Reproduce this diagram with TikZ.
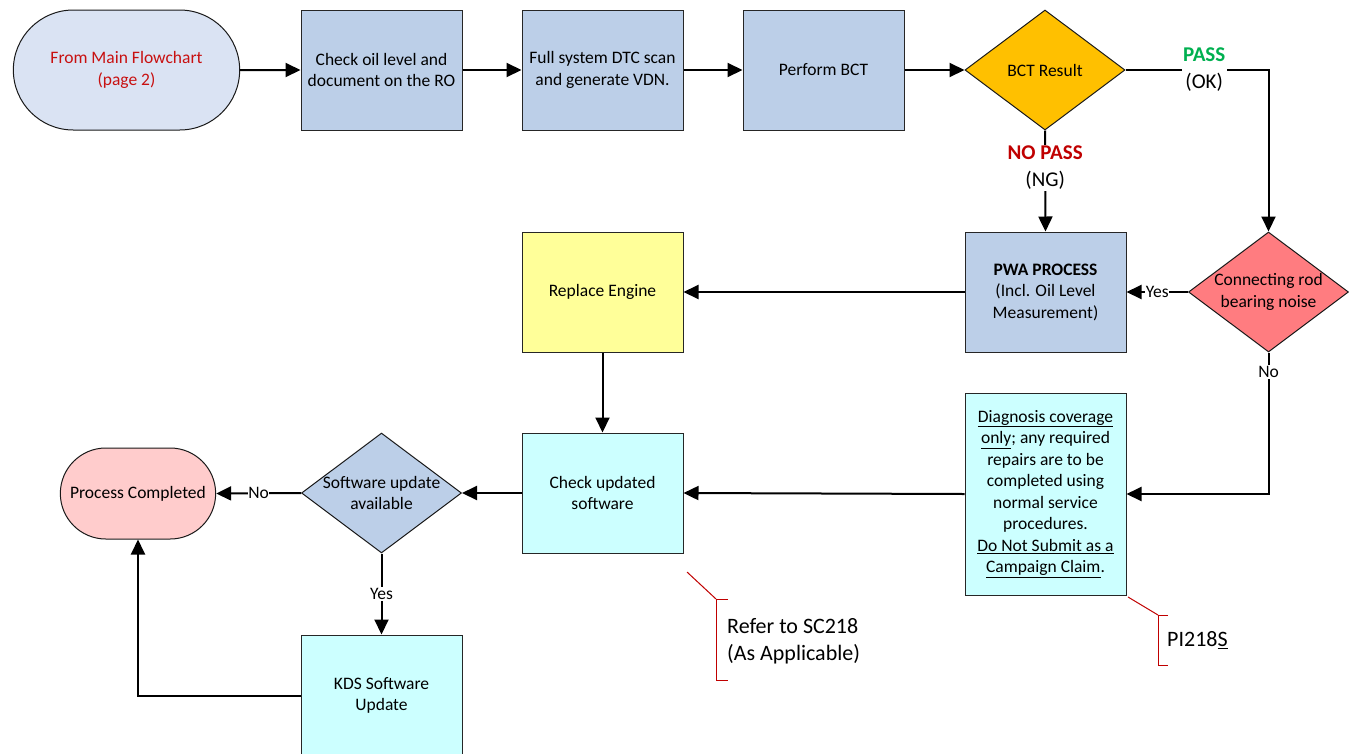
\documentclass[tikz,border=0pt]{standalone}
\usepackage{fontspec}
\setmainfont{Carlito}
\usetikzlibrary{arrows.meta,shapes.geometric,shapes.misc}
\definecolor{boxblue}{RGB}{188,207,232}
\definecolor{startblue}{RGB}{218,227,243}
\definecolor{yel}{RGB}{255,255,153}
\definecolor{cyanbox}{RGB}{204,255,255}
\definecolor{orangedia}{RGB}{255,192,0}
\definecolor{reddia}{RGB}{255,124,128}
\definecolor{pinkend}{RGB}{255,204,204}
\definecolor{passgreen}{RGB}{0,176,80}
\definecolor{darkred}{RGB}{192,0,0}
\definecolor{txtred}{RGB}{200,16,16}
\newcommand{\nf}{\fontsize{17.5}{21.5}\selectfont}
\begin{document}
\begin{tikzpicture}[x=1pt,y=-1pt,
  stepbox/.style={draw=black!85, line width=1pt, minimum width=161pt, minimum height=120pt, inner sep=2pt, align=center, font=\nf},
  decision/.style={diamond, draw=black!90, line width=1pt, minimum width=160pt, minimum height=120pt, inner sep=-14pt, aspect=1.333, align=center, font=\nf},
  terminal/.style={rounded rectangle, draw=black!90, line width=1pt, align=center, font=\nf},
  conn/.style={line width=2pt, -{Triangle[length=15pt,width=14pt]}},
  lab/.style={fill=white, inner sep=1.5pt, align=center, font=\nf},
  biglab/.style={fill=white, inner sep=1.5pt, align=center, font=\fontsize{21}{27}\selectfont},
  callout/.style={draw=darkred, line width=1pt},
  note/.style={align=left, font=\fontsize{22}{27}\selectfont, anchor=west, inner sep=0pt}
]
\useasboundingbox (0,0) rectangle (1349,753);

% top row
\node[terminal, fill=startblue, minimum width=233pt, minimum height=120pt, text=txtred] (start) at (126.5,70) {From Main Flowchart\\(page 2)};
\node[stepbox, fill=boxblue] (oil) at (381.5,70) {Check oil level and\\document on the RO};
\node[stepbox, fill=boxblue] (dtc) at (602.5,70) {Full system DTC scan\\and generate VDN.};
\node[stepbox, fill=boxblue] (bctp) at (823.5,70) {Perform BCT};
\node[decision, fill=orangedia] (bct) at (1045,70) {BCT Result};

% middle row
\node[decision, fill=reddia] (cr) at (1268.5,292) {Connecting rod\\bearing noise};
\node[stepbox, fill=boxblue] (pwa) at (1045.5,292) {\textbf{PWA PROCESS}\\(Incl. Oil Level\\Measurement)};
\node[stepbox, fill=yel] (rep) at (602.5,292) {Replace Engine};

% lower row
\node[stepbox, fill=cyanbox, minimum height=202pt] (diag) at (1045.5,494) {\underline{Diagnosis coverage}\\\underline{only}; any required\\repairs are to be\\completed using\\normal service\\procedures.\\\underline{Do Not Submit as a}\\\underline{Campaign Claim}.};
\node[stepbox, fill=cyanbox] (chk) at (602.5,493) {Check updated\\software};
\node[decision, fill=boxblue] (sw) at (381.5,493) {Software update\\available};
\node[terminal, fill=pinkend, minimum width=162pt, minimum height=91pt] (pc) at (138,493.5) {Process Completed};
\node[stepbox, fill=cyanbox, minimum height=121pt] (kds) at (381.5,695.5) {KDS Software\\Update};

% connectors
\draw[conn] (start) -- (oil);
\draw[conn] (oil) -- (dtc);
\draw[conn] (dtc) -- (bctp);
\draw[conn] (bctp) -- (bct);
\draw[conn] (bct.east) -- node[biglab, pos=0.55]{\textcolor{passgreen}{\textbf{PASS}}\\(OK)} (bct.east -| cr.north) -- (cr.north);
\draw[conn] (bct.south) -- node[biglab, pos=0.37]{\textcolor{darkred}{\textbf{NO PASS}}\\(NG)} (pwa.north);
\draw[conn] (cr.west) -- node[lab, inner sep=0.5pt]{Yes} (pwa.east);
\draw[conn] (pwa.west) -- (rep.east);
\draw[conn] (rep.south) -- (chk.north);
\draw[conn] (cr.south) -- node[lab, pos=0.14]{No} (cr.south |- diag.east) -- (diag.east);
\draw[conn] (diag.west) -- (chk.east);
\draw[conn] (chk.west) -- (sw.east);
\draw[conn] (sw.west) -- node[lab, inner sep=0.5pt]{No} (pc.east);
\draw[conn] (sw.south) -- node[lab]{Yes} (kds.north);
\draw[conn] (kds.west) -- (kds.west -| pc.south) -- (pc.south);

% callouts
\coordinate (c1a) at (687,572);
\coordinate (c1b) at (716,599);
\coordinate (c1c) at (716,680);
\draw[callout] (c1a) -- (c1b);
\draw[callout] ([xshift=12pt]c1b) -- (c1b) -- (c1c) -- ([xshift=12pt]c1c);
\node[note] (ref) at (727,641) {Refer to SC218\\(As Applicable)};

\coordinate (c2a) at (1128,597);
\coordinate (c2b) at (1158,615);
\coordinate (c2c) at (1158,665);
\draw[callout] (c2a) -- (c2b);
\draw[callout] ([xshift=10pt]c2b) -- (c2b) -- (c2c) -- ([xshift=10pt]c2c);
\node[note] (pi) at (1167,640) {PI218\underline{S}};
\end{tikzpicture}
\end{document}
